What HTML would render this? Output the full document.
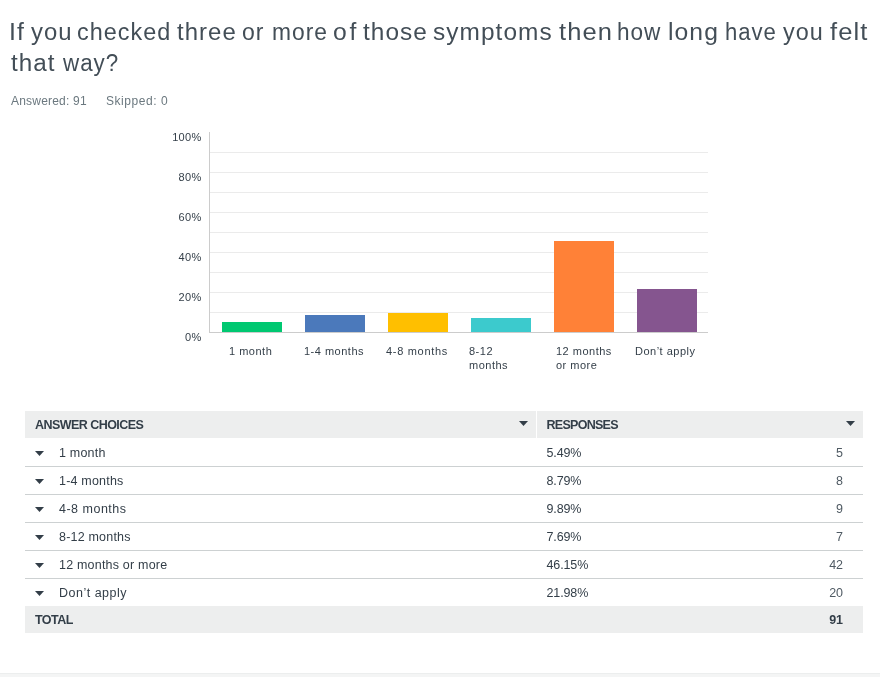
<!DOCTYPE html>
<html><head><meta charset="utf-8">
<style>
html,body{margin:0;padding:0;background:#fff;}
body{width:880px;height:677px;position:relative;overflow:hidden;font-family:"Liberation Sans",sans-serif;color:#333e48;}
.abs{position:absolute;white-space:nowrap;}
.title{position:absolute;left:0;top:0;}
.w{position:absolute;white-space:nowrap;font-size:23px;line-height:31px;letter-spacing:1px;color:#434e57;transform-origin:0 0;}
.meta{font-size:12px;letter-spacing:0.2px;color:#6b787f;top:94px;line-height:15px;}
.ylab{font-size:11px;letter-spacing:0.3px;color:#333e48;width:40px;text-align:right;left:161.5px;line-height:12px;}
.xlab{font-size:11px;letter-spacing:0.5px;color:#333e48;line-height:14px;top:344px;}
.grid{left:210px;width:498px;height:1px;background:#ebebeb;}
.bar{bottom:345px;width:60px;}
.th{font-weight:bold;font-size:12.5px;letter-spacing:-0.55px;color:#333e48;line-height:27px;margin-top:1px;}
.td{font-size:12.5px;letter-spacing:0.2px;color:#333e48;line-height:28px;margin-top:1px;}
.td.num{color:#4f5a63;}
.pc{letter-spacing:-0.12px;margin-left:-0.5px;}
.rowline{left:25px;width:838px;height:1px;background:#cdd1d2;}
.caret{width:9px;height:5px;background:#333e48;clip-path:polygon(0 0,100% 0,50% 100%);}
.num{text-align:right;width:60px;left:782.6px;letter-spacing:-0.3px;}
</style></head><body>
<div class="title">
<span class="w" style="left:8.8px;top:17px;transform:scaleX(1.083)">If</span>
<span class="w" style="left:30.6px;top:17px;transform:scaleX(1.037)">you</span>
<span class="w" style="left:76.6px;top:17px;transform:scaleX(1.018)">checked</span>
<span class="w" style="left:176.5px;top:17px;transform:scaleX(1.041)">three</span>
<span class="w" style="left:242.0px;top:17px;transform:scaleX(1.000)">or</span>
<span class="w" style="left:272.3px;top:17px;transform:scaleX(0.992)">more</span>
<span class="w" style="left:332.8px;top:17px;letter-spacing:2.5px;transform:scaleX(1.073)">of</span>
<span class="w" style="left:363.2px;top:17px;transform:scaleX(1.061)">those</span>
<span class="w" style="left:432.7px;top:17px;transform:scaleX(1.062)">symptoms</span>
<span class="w" style="left:559.3px;top:17px;transform:scaleX(1.109)">then</span>
<span class="w" style="left:617.4px;top:17px;transform:scaleX(0.981)">how</span>
<span class="w" style="left:668.3px;top:17px;transform:scaleX(1.073)">long</span>
<span class="w" style="left:724.5px;top:17px;transform:scaleX(0.961)">have</span>
<span class="w" style="left:782.7px;top:17px;transform:scaleX(1.016)">you</span>
<span class="w" style="left:829.8px;top:17px;transform:scaleX(1.112)">felt</span>
<span class="w" style="left:11.2px;top:48px;transform:scaleX(1.054)">that</span>
<span class="w" style="left:62.5px;top:48px;transform:scaleX(0.973)">way?</span>
</div>
<div class="abs meta" id="m1" style="left:11px">Answered: 91</div>
<div class="abs meta" id="m2" style="left:106px;letter-spacing:0.55px">Skipped: 0</div>

<!-- chart -->
<div class="abs grid" style="top:152px"></div>
<div class="abs grid" style="top:172px"></div>
<div class="abs grid" style="top:192px"></div>
<div class="abs grid" style="top:212px"></div>
<div class="abs grid" style="top:232px"></div>
<div class="abs grid" style="top:252px"></div>
<div class="abs grid" style="top:272px"></div>
<div class="abs grid" style="top:292px"></div>
<div class="abs grid" style="top:312px"></div>
<div class="abs" style="left:209px;top:132px;width:1px;height:201px;background:#ccc"></div>
<div class="abs" style="left:209px;top:332px;width:499px;height:1px;background:#ccc"></div>

<div class="abs ylab" style="top:131px">100%</div>
<div class="abs ylab" style="top:171px">80%</div>
<div class="abs ylab" style="top:211px">60%</div>
<div class="abs ylab" style="top:251px">40%</div>
<div class="abs ylab" style="top:291px">20%</div>
<div class="abs ylab" style="top:331px">0%</div>

<div class="abs bar" style="left:222px;height:10px;background:#00c871"></div>
<div class="abs bar" style="left:305px;height:17px;background:#4b79bb"></div>
<div class="abs bar" style="left:388px;height:19px;background:#ffbf00"></div>
<div class="abs bar" style="left:471px;height:14px;background:#3ccacd"></div>
<div class="abs bar" style="left:554px;height:91px;background:#ff8137"></div>
<div class="abs bar" style="left:637px;height:43px;background:#85558f"></div>

<div class="abs xlab" style="left:229px">1 month</div>
<div class="abs xlab" style="left:304px">1-4 months</div>
<div class="abs xlab" style="left:386px;letter-spacing:0.7px">4-8 months</div>
<div class="abs xlab" style="left:469px">8-12<br>months</div>
<div class="abs xlab" style="left:556px">12 months<br>or more</div>
<div class="abs xlab" style="left:635px">Don’t apply</div>

<!-- table -->
<div class="abs" style="left:25px;top:411px;width:511px;height:27px;background:#edeeee"></div>
<div class="abs" style="left:537px;top:411px;width:326px;height:27px;background:#edeeee"></div>
<div class="abs th" style="left:35px;top:411px">ANSWER CHOICES</div>
<div class="abs th" style="left:546.5px;top:411px;letter-spacing:-0.72px">RESPONSES</div>
<div class="abs caret" style="left:519px;top:421px"></div>
<div class="abs caret" style="left:846px;top:421px"></div>

<div class="abs rowline" style="top:466px"></div>
<div class="abs rowline" style="top:494px"></div>
<div class="abs rowline" style="top:522px"></div>
<div class="abs rowline" style="top:550px"></div>
<div class="abs rowline" style="top:578px"></div>

<div class="abs caret" style="left:35px;top:451px"></div>
<div class="abs caret" style="left:35px;top:479px"></div>
<div class="abs caret" style="left:35px;top:507px"></div>
<div class="abs caret" style="left:35px;top:535px"></div>
<div class="abs caret" style="left:35px;top:563px"></div>
<div class="abs caret" style="left:35px;top:591px"></div>

<div class="abs td" style="left:59px;top:438px">1 month</div>
<div class="abs td" style="left:59px;top:466px">1-4 months</div>
<div class="abs td" style="left:59px;top:494px;letter-spacing:0.5px">4-8 months</div>
<div class="abs td" style="left:59px;top:522px">8-12 months</div>
<div class="abs td" style="left:59px;top:550px">12 months or more</div>
<div class="abs td" style="left:59px;top:578px;letter-spacing:0.5px">Don’t apply</div>

<div class="abs td pc" style="left:547px;top:438px">5.49%</div>
<div class="abs td pc" style="left:547px;top:466px">8.79%</div>
<div class="abs td pc" style="left:547px;top:494px">9.89%</div>
<div class="abs td pc" style="left:547px;top:522px">7.69%</div>
<div class="abs td pc" style="left:547px;top:550px">46.15%</div>
<div class="abs td pc" style="left:547px;top:578px">21.98%</div>

<div class="abs td num" style="top:438px">5</div>
<div class="abs td num" style="top:466px">8</div>
<div class="abs td num" style="top:494px">9</div>
<div class="abs td num" style="top:522px">7</div>
<div class="abs td num" style="top:550px">42</div>
<div class="abs td num" style="top:578px">20</div>

<div class="abs" style="left:25px;top:606px;width:838px;height:27px;background:#edeeee"></div>
<div class="abs th" style="left:35px;top:606px">TOTAL</div>
<div class="abs th num" style="top:606px">91</div>

<div class="abs" style="left:0;top:673px;width:880px;height:4px;background:#f4f5f5;border-top:1px solid #eceeee;box-sizing:border-box"></div>
</body></html>
